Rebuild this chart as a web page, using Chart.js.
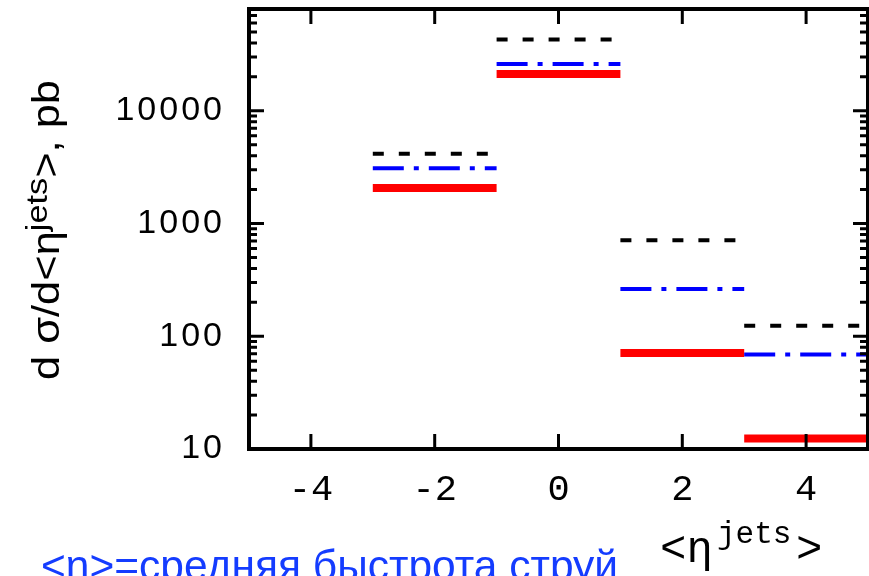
<!DOCTYPE html>
<html lang="ru">
<head>
<meta charset="utf-8">
<title>dσ/d&lt;η jets&gt;</title>
<script src="https://cdn.jsdelivr.net/npm/chart.js@4/dist/chart.umd.min.js"></script>
<style>
  html, body { margin: 0; padding: 0; background: #fff; }
  #wrap { position: relative; width: 869px; height: 576px; overflow: hidden; }
  canvas { display: block; }
</style>
</head>
<body>
<div id="wrap"><canvas id="xsec" width="869" height="576"></canvas></div>
<script>
// Binned cross section vs mean jet pseudorapidity, three predictions
const binEdges    = [-3, -1, 1, 3, 5];
const histDashed  = [4150, 43000, 710, 124];   // black, short dashes
const histDashDot = [3100, 26000, 262, 69];    // blue, dash-dot
const histSolid   = [2070, 21200, 71, 12.4];   // red, solid

const xTicks      = [-4, -2, 0, 2, 4];
const yTickLabels = [10, 100, 1000, 10000];
const X_MIN = -5, X_MAX = 5;
const Y_MIN = 10, Y_MAX = 80000;

const CAPTION = '<η>=средняя быстрота струй';

// one horizontal segment per bin, separated by gaps
function steps(values) {
  return values.flatMap((v, i) => [
    { x: binEdges[i], y: v },
    { x: binEdges[i + 1], y: v },
    { x: binEdges[i + 1], y: null }
  ]);
}

// log axis whose labels get a little extra letter spacing
class SpacedLogScale extends Chart.LogarithmicScale {
  drawLabels(area) {
    this.ctx.save();
    this.ctx.letterSpacing = '3px';
    super.drawLabels(area);
    this.ctx.restore();
  }
}
SpacedLogScale.id = 'spacedLog';
SpacedLogScale.defaults = Chart.LogarithmicScale.defaults;
Chart.register(SpacedLogScale);

// ── frame + inward tick marks on all four sides ────────────
const frameTicks = {
  id: 'frameTicks',
  afterDatasetsDraw(chart) {
    const { ctx, chartArea: a, scales: { x, y } } = chart;
    ctx.save();
    ctx.strokeStyle = '#000';
    ctx.lineCap = 'butt';

    ctx.lineWidth = 3;
    ctx.beginPath();
    xTicks.forEach(v => {
      const px = x.getPixelForValue(v);
      ctx.moveTo(px, a.bottom); ctx.lineTo(px, a.bottom - 15);
      ctx.moveTo(px, a.top);    ctx.lineTo(px, a.top + 15);
    });
    y.ticks.forEach(t => {
      const v = t.value;
      if (v <= y.min || v >= y.max) return;
      const mant = v / Math.pow(10, Math.floor(Math.log10(v) + 1e-9));
      if (Math.abs(mant - Math.round(mant)) > 1e-6) return;
      const len = Math.round(mant) === 1 ? 15 : 8;
      const py = y.getPixelForValue(v);
      ctx.moveTo(a.left, py);  ctx.lineTo(a.left + len, py);
      ctx.moveTo(a.right, py); ctx.lineTo(a.right - len, py);
    });
    ctx.stroke();

    ctx.lineWidth = 4;
    ctx.strokeRect(a.left, a.top, a.right - a.left, a.bottom - a.top);
    ctx.restore();
  }
};

// draws text runs left to right from (0, 0); returns the total advance
function drawRuns(ctx, runs, measureOnly) {
  let cx = 0;
  runs.forEach(r => {
    ctx.font = r.font;
    if (!measureOnly) ctx.fillText(r.text, cx, r.dy || 0);
    cx += ctx.measureText(r.text).width;
  });
  return cx;
}

// ── axis titles and caption ───────────────────────────────
const titles = {
  id: 'titles',
  afterDraw(chart) {
    const ctx = chart.ctx;
    ctx.save();
    ctx.fillStyle = '#000';
    ctx.textBaseline = 'alphabetic';
    ctx.textAlign = 'left';

    // y title, reading bottom to top
    const yRuns = [
      { text: 'd σ/d<η', font: '38px "Liberation Sans"' },
      { text: 'jets', font: '30px "Liberation Sans"', dy: -12 },
      { text: '>, pb', font: '38px "Liberation Sans"' }
    ];
    const w = drawRuns(ctx, yRuns, true);
    ctx.save();
    ctx.translate(59, 380);
    ctx.rotate(-Math.PI / 2);
    ctx.scale(300 / w, 1);
    drawRuns(ctx, yRuns, false);
    ctx.restore();

    // x title
    ctx.font = '44px "Liberation Mono"';
    ctx.fillText('<η', 660, 562);
    ctx.fillText('>', 796, 562);
    ctx.font = '31px "Liberation Mono"';
    ctx.fillText('jets', 717, 543);

    // caption
    ctx.fillStyle = '#143cff';
    ctx.font = '42.5px "Liberation Sans"';
    ctx.fillText(CAPTION, 41, 580);
    ctx.restore();
  }
};

// drop the label overhang padding so the plot frame sits where the layout puts it
function noOverhang(s) {
  s.paddingTop = 0; s.paddingBottom = 0;
  s.paddingLeft = 0; s.paddingRight = 0;
}

new Chart(document.getElementById('xsec').getContext('2d'), {
  type: 'line',
  data: {
    datasets: [
      {
        data: steps(histDashed),
        borderColor: '#000000',
        borderWidth: 4,
        borderDash: [11, 15]
      },
      {
        data: steps(histDashDot),
        borderColor: '#0000ff',
        borderWidth: 4,
        borderDash: [31, 10, 5, 10]
      },
      {
        data: steps(histSolid),
        borderColor: '#ff0000',
        borderWidth: 8
      }
    ]
  },
  options: {
    responsive: false,
    animation: false,
    devicePixelRatio: 1,
    events: [],
    layout: { padding: { top: 9, right: 1, left: 0, bottom: 0 } },
    elements: {
      point: { radius: 0 },
      line: { tension: 0, fill: false, borderCapStyle: 'butt' }
    },
    plugins: { legend: { display: false }, tooltip: { enabled: false } },
    scales: {
      x: {
        type: 'linear',
        min: X_MIN,
        max: X_MAX,
        grid: { display: false, drawTicks: false },
        border: { display: false },
        afterFit: s => { s.height = 127; noOverhang(s); },
        afterBuildTicks: s => { s.ticks = xTicks.map(v => ({ value: v })); },
        ticks: {
          padding: 19,
          color: '#000',
          font: { family: 'Liberation Mono', size: 37 },
          callback: v => (v < 0 ? '-' : '') + Math.abs(v)
        }
      },
      y: {
        type: 'spacedLog',
        min: Y_MIN,
        max: Y_MAX,
        grid: { display: false, drawTicks: false },
        border: { display: false },
        afterFit: s => { s.width = 249; noOverhang(s); },
        ticks: {
          padding: 24,
          autoSkip: false,
          color: '#000',
          font: { family: 'Liberation Sans', size: 34 },
          callback: v => (yTickLabels.includes(v) ? String(v) : '')
        }
      }
    }
  },
  plugins: [frameTicks, titles]
});
</script>
</body>
</html>
